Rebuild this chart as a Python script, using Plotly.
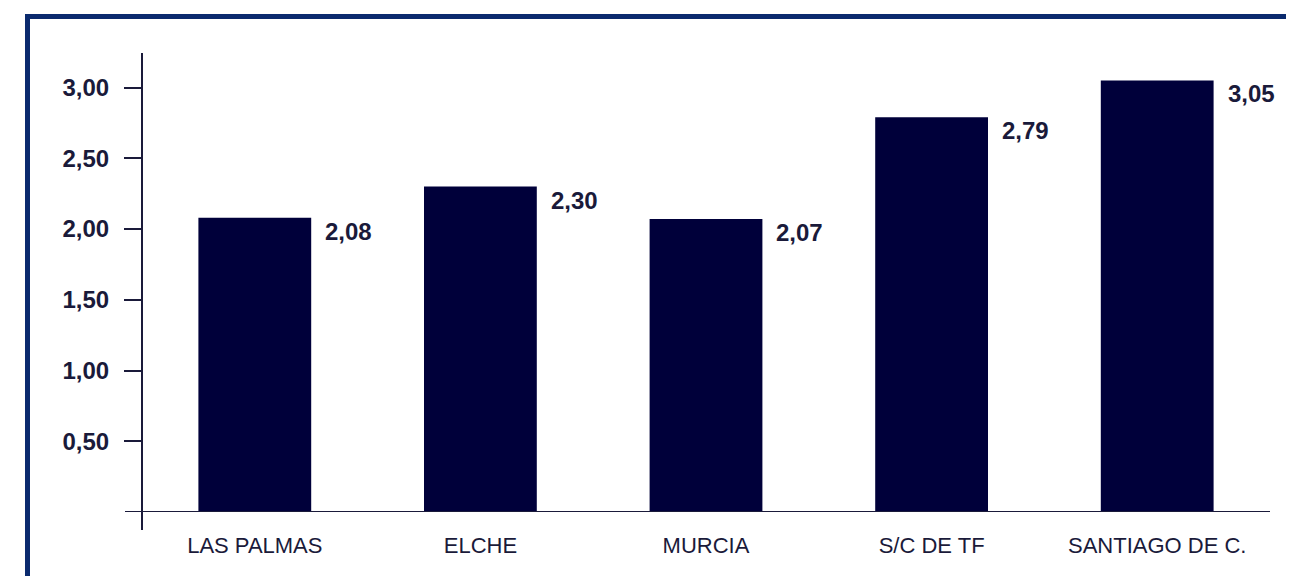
import plotly.graph_objects as go

categories = ["LAS PALMAS", "ELCHE", "MURCIA", "S/C DE TF", "SANTIAGO DE C."]
values = [2.08, 2.30, 2.07, 2.79, 3.05]
value_labels = ["2,08", "2,30", "2,07", "2,79", "3,05"]
y_ticks = [0.5, 1.0, 1.5, 2.0, 2.5, 3.0]
y_tick_labels = ["0,50", "1,00", "1,50", "2,00", "2,50", "3,00"]

BAR = "#00003a"
INK = "#1a1a3a"
FRAME = "#0b2a6e"

fig = go.Figure()
fig.add_trace(go.Bar(x=categories, y=values, width=0.5, marker=dict(color=BAR, line=dict(width=0)),
                     hoverinfo="skip"))

for i, (v, t) in enumerate(zip(values, value_labels)):
    fig.add_annotation(x=i + 0.25, y=v, text=t, showarrow=False, xanchor="left", yanchor="top",
                       xshift=12, yshift=2,
                       font=dict(family="Liberation Sans, Arial", size=24, color=INK, weight="bold"))

# page body has an 8px default margin; compensate (figure overflows to the right/bottom)
W, H = 1294, 576
L, R, T, B = 134, 32, 45, 72
pw, ph = W - L - R, H - T - B

# axis lines (crossing extensions)
fig.add_shape(type="line", xref="paper", yref="paper", x0=0, x1=0, y0=-18 / ph, y1=1,
              line=dict(color=INK, width=2))
fig.add_shape(type="line", xref="paper", yref="y", x0=-17 / pw, x1=1, y0=0, y1=0,
              line=dict(color=INK, width=2))
# outer frame
fig.add_shape(type="rect", xref="paper", yref="paper",
              x0=(19.5 - L) / pw, x1=1.2, y0=-0.3, y1=(H - B - 8.5) / ph,
              line=dict(color=FRAME, width=5), layer="above")

fig.update_layout(
    width=W, height=H,
    margin=dict(l=L, r=R, t=T, b=B),
    plot_bgcolor="white", paper_bgcolor="white",
    showlegend=False,
    separators=",.",
    bargap=0.5,
    xaxis=dict(showline=False, showgrid=False, zeroline=False, ticks="",
               tickfont=dict(family="Liberation Sans, Arial", size=22, color=INK),
               ticklabelstandoff=18, range=[-0.5, 4.5]),
    yaxis=dict(range=[0, ph / 141.5], showline=False, showgrid=False, zeroline=False,
               tickvals=y_ticks, ticktext=y_tick_labels, ticks="outside", ticklen=17,
               tickwidth=2, tickcolor=INK, ticklabelstandoff=10,
               tickfont=dict(family="Liberation Sans, Arial", size=24, color=INK, weight="bold")),
)

fig.write_html("out.html")
